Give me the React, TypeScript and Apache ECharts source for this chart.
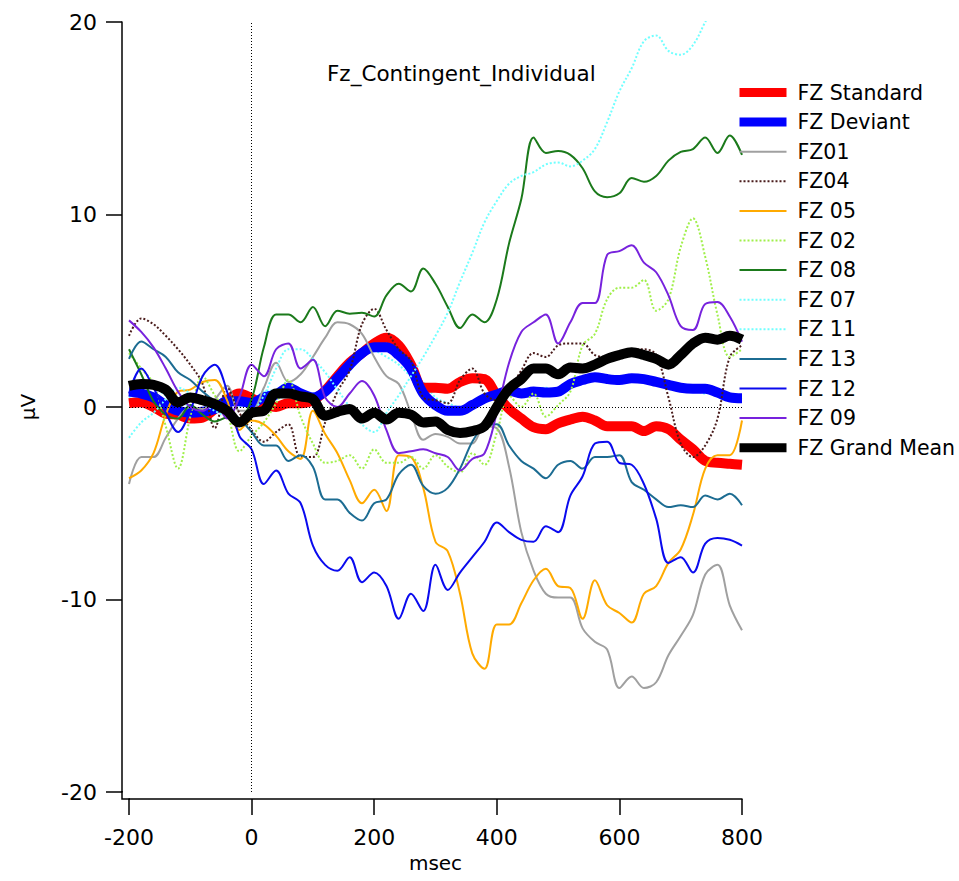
import React, { useEffect, useRef } from 'react';
import * as echarts from 'echarts';

const times = [-200, -180, -160, -140, -120, -100, -80, -60, -40, -20, 0, 20, 40, 60, 80, 100, 120, 140, 160, 180, 200, 220, 240, 260, 280, 300, 320, 340, 360, 380, 400, 420, 440, 460, 480, 500, 520, 540, 560, 580, 600, 620, 640, 660, 680, 700, 720, 740, 760, 780, 800];

const xTicks = [-200, 0, 200, 400, 600, 800];
const yTicks = [-20, -10, 0, 10, 20];

const fzStandard = [0.2, 0.25, 0.0, -0.35, -0.4, -0.6, -0.55, -0.1, 0.35, 0.7, 0.45, 0.15, 0.0, 0.2, 0.2, 0.35, 0.85, 1.6, 2.3, 2.8, 3.3, 3.6, 3.2, 2.2, 1.0, 1.0, 0.95, 1.3, 1.5, 1.45, 0.6, -0.1, -0.6, -1.05, -1.15, -0.85, -0.65, -0.5, -0.7, -1.0, -1.0, -1.0, -1.25, -1.0, -1.15, -1.7, -2.2, -2.8, -2.9, -2.95, -3.0];
const fzDeviant = [0.8, 0.7, 0.5, 0.1, -0.2, -0.3, -0.25, -0.1, 0.3, 0.3, 0.2, 0.5, 0.65, 1.0, 0.7, 0.5, 0.8, 1.5, 2.2, 2.8, 3.1, 3.1, 2.7, 2.0, 0.7, 0.1, -0.2, -0.2, 0.1, 0.45, 0.65, 0.85, 0.7, 0.8, 0.75, 0.8, 1.2, 1.4, 1.55, 1.45, 1.4, 1.5, 1.45, 1.3, 1.15, 1.0, 0.95, 0.95, 0.75, 0.5, 0.45];
const fz01 = [-4.0, -2.6, -2.6, -1.6, -0.6, 0.0, -0.1, 0.4, 1.1, -0.2, -0.2, 1.0, 2.3, 1.3, 1.7, 2.6, 3.6, 4.4, 4.3, 3.8, 2.6, 1.6, 1.2, -0.3, -1.7, -1.4, -1.55, -1.9, -1.9, -1.0, -1.1, -3.1, -6.5, -8.5, -9.7, -9.9, -9.9, -11.5, -12.2, -12.6, -14.6, -14.0, -14.6, -14.3, -12.9, -11.9, -10.8, -8.7, -8.2, -10.3, -11.6];
const fz04 = [3.7, 4.6, 4.3, 3.7, 3.0, 2.2, 1.2, -1.1, 1.0, -0.3, -1.2, -1.8, -1.3, -0.9, -2.6, -2.6, -0.8, 0.8, 1.9, 4.3, 5.1, 4.0, 3.0, 2.4, 0.5, 0.35, 0.2, 1.4, 2.0, 0.7, 0.35, 0.9, 1.9, 2.8, 2.6, 3.2, 3.3, 3.3, 2.7, 2.6, 2.8, 3.0, 3.0, 2.7, 0.5, -1.9, -2.6, -2.0, -0.6, 2.6, 3.2];
const fz05 = [-3.7, -3.3, -2.4, -0.4, 0.8, 0.9, 1.3, 1.4, 0.35, -1.2, -0.7, -0.9, -1.5, -2.3, -2.7, -0.2, -1.4, -2.4, -3.8, -5.0, -4.3, -5.4, -2.5, -2.6, -4.2, -7.0, -7.5, -9.7, -12.8, -13.6, -11.3, -11.3, -10.2, -9.0, -8.4, -9.3, -9.4, -11.0, -9.0, -10.3, -10.7, -11.2, -9.7, -9.3, -8.1, -7.4, -5.6, -3.2, -2.5, -2.5, -0.7];
const fz02 = [2.8, 2.0, 1.2, -1.0, -3.2, -0.5, 1.6, 0.6, -0.3, -2.3, -1.5, -0.8, 0.2, 1.4, -0.5, -1.9, -2.9, -2.8, -2.5, -3.2, -2.2, -2.9, -2.9, -2.6, -3.2, -2.5, -3.1, -3.4, -2.4, -3.0, -1.35, 0.6, 0.0, 0.7, -0.5, 0.1, 0.8, 3.2, 3.8, 5.6, 6.2, 6.2, 6.6, 5.0, 5.6, 8.3, 9.8, 7.8, 4.8, 2.6, 3.0];
const fz08 = [3.0, 1.7, 0.3, -0.4, -0.6, 0.1, -0.4, -0.75, -0.55, -0.6, 0.4, 3.1, 4.8, 4.8, 4.4, 5.2, 4.2, 5.0, 4.85, 4.9, 4.7, 5.8, 6.4, 6.0, 7.2, 6.4, 5.2, 4.1, 4.8, 4.4, 5.6, 8.5, 10.8, 14.0, 13.2, 13.3, 13.1, 12.4, 11.2, 10.9, 11.1, 11.9, 11.7, 12.0, 12.8, 13.25, 13.4, 14.0, 13.2, 14.1, 13.1];
const fz07 = [-1.6, -0.8, -0.3, 0.4, 1.0, 0.7, 0.2, -0.2, -0.5, -0.6, -0.3, 0.6, 2.0, 3.0, 3.0, 2.5, 1.8, 0.9, 0.0, -0.9, -1.3, -0.3, 0.6, 1.6, 2.6, 3.7, 4.9, 6.5, 8.0, 9.6, 10.7, 11.6, 12.0, 12.2, 12.6, 12.7, 12.5, 12.8, 13.4, 14.8, 16.4, 17.6, 19.0, 19.3, 18.5, 18.3, 18.8, 20.0, 21.2, 22.0, 22.5];
const fz11 = [0.5, 0.9, 1.0, 0.6, 0.3, 0.0, -0.3, 0.2, 0.5, 0.0, 0.3, 0.8, 0.9, 1.3, 0.8, 0.7, 1.0, 1.6, 2.3, 2.6, 2.9, 2.6, 2.2, 1.6, 1.3, 0.5, 0.2, 0.0, 0.2, 0.5, 0.8, 1.0, 0.8, 0.9, 1.0, 0.8, 1.1, 1.4, 1.6, 1.5, 1.5, 1.5, 1.4, 1.2, 1.0, 0.9, 0.9, 0.7, 0.9, 0.6, 0.4];
const fz13 = [2.5, 3.4, 3.0, 2.6, 1.8, 1.4, 0.8, 0.3, -0.2, -0.6, -1.3, -2.0, -2.0, -2.8, -2.5, -3.1, -4.8, -4.8, -5.5, -5.9, -5.0, -4.8, -3.5, -3.0, -4.1, -4.5, -4.2, -3.2, -1.8, -1.0, -0.9, -2.0, -2.8, -3.2, -3.7, -3.0, -2.8, -3.2, -2.6, -2.6, -2.5, -3.9, -4.3, -4.8, -5.2, -5.1, -5.2, -4.6, -4.8, -4.5, -5.1];
const fz12 = [0.7, 2.0, 1.0, -0.3, -1.3, -0.2, 1.6, 2.2, 0.8, -1.5, -2.2, -4.0, -3.3, -4.5, -5.0, -7.2, -8.2, -8.5, -7.8, -9.1, -8.6, -9.3, -11.0, -9.7, -10.6, -8.2, -9.5, -8.6, -7.8, -7.0, -6.0, -6.5, -6.9, -7.0, -6.2, -6.5, -4.6, -3.6, -1.9, -1.8, -2.9, -3.0, -4.0, -5.8, -8.1, -7.8, -8.6, -7.1, -6.8, -6.9, -7.2];
const fz09 = [4.5, 3.9, 3.1, 2.0, 0.8, 0.0, -0.2, 0.2, -0.6, 0.5, 2.2, 1.6, 3.0, 3.3, 2.0, 2.45, 0.5, 0.0, 0.7, 1.35, 0.6, -1.2, -2.4, -2.3, -2.2, -2.4, -2.6, -3.3, -2.7, -2.4, -0.3, 2.3, 3.9, 4.4, 4.8, 3.3, 4.4, 5.4, 5.4, 7.9, 8.1, 8.4, 7.5, 7.0, 5.8, 4.2, 4.0, 5.35, 5.45, 4.7, 3.4];
const fzGrandMean = [1.1, 1.2, 1.15, 0.9, 0.25, 0.5, 0.35, 0.15, -0.2, -0.8, -0.3, -0.2, 0.7, 0.7, 0.55, 0.4, -0.45, -0.25, -0.1, -0.6, -0.3, -0.65, -0.3, -0.4, -0.8, -0.75, -1.2, -1.35, -1.25, -1.0, 0.0, 0.95, 1.45, 2.0, 2.0, 1.7, 2.05, 2.0, 2.2, 2.5, 2.7, 2.85, 2.7, 2.5, 2.2, 2.7, 3.3, 3.6, 3.5, 3.7, 3.5];

const seriesNames = ['FZ Standard', 'FZ Deviant', 'FZ01', 'FZ04', 'FZ 05', 'FZ 02', 'FZ 08', 'FZ 07', 'FZ 11', 'FZ 13', 'FZ 12', 'FZ 09', 'FZ Grand Mean'];
const seriesValues = [fzStandard, fzDeviant, fz01, fz04, fz05, fz02, fz08, fz07, fz11, fz13, fz12, fz09, fzGrandMean];
const seriesColors = ['#ff0000', '#0000ff', '#a0a0a0', '#4a1c1c', '#ffaa00', '#a0ef4a', '#1b7a1b', '#70ffff', '#70ffff', '#1c6c92', '#0a0aee', '#7722dd', '#000000'];
const seriesWidths = [10, 10, 2, 2, 2, 2, 2, 2, 2, 2, 2, 2, 10];
const seriesDotted = [false, false, false, true, false, true, false, true, true, false, false, false, false];
const seriesZ = [3, 3, 3, 3, 3, 3, 3, 3, 2, 3, 3, 3, 3];

const FONT = '"DejaVu Sans", "Noto Sans", sans-serif';

export default function App() {
  const ref = useRef<HTMLDivElement>(null);

  useEffect(() => {
    if (!ref.current) return;
    const chart = echarts.init(ref.current, null, { renderer: 'svg' });

    const lineType = (k: number) => (seriesDotted[k] ? [2, 2] : 'solid');

    const lines = seriesNames.map((name, k) => ({
      name,
      type: 'line',
      data: times.map((t, i) => [t, seriesValues[k][i]]),
      smooth: 0.35,
      symbol: 'none',
      showSymbol: false,
      clip: true,
      silent: true,
      z: seriesZ[k],
      lineStyle: {
        color: seriesColors[k],
        width: seriesWidths[k],
        type: lineType(k),
        cap: 'butt',
        join: 'round',
      },
      itemStyle: { color: seriesColors[k] },
    }));

    const refLines = {
      type: 'line',
      data: [],
      z: 1,
      silent: true,
      markLine: {
        silent: true,
        symbol: ['none', 'none'],
        label: { show: false },
        lineStyle: { color: '#000', width: 1, type: [1, 2] },
        data: [{ yAxis: 0 }, { xAxis: 0 }],
      },
    };

    chart.setOption({
      animation: false,
      backgroundColor: '#ffffff',
      title: {
        text: 'Fz_Contingent_Individual',
        left: 327,
        top: 62,
        padding: 0,
        textStyle: { fontFamily: FONT, fontSize: 21.5, fontWeight: 'normal', color: '#000' },
      },
      legend: {
        orient: 'vertical',
        left: 735,
        top: 82,
        padding: 0,
        itemWidth: 47,
        itemHeight: 20,
        itemGap: 8.6,
        selectedMode: false,
        data: seriesNames.map((name, k) => ({
          name,
          itemStyle: { opacity: 0 },
          lineStyle: {
            color: seriesColors[k],
            width: Math.min(seriesWidths[k], 9),
            type: lineType(k),
            cap: 'butt',
          },
        })),
        itemStyle: { opacity: 0 },
        textStyle: { fontFamily: FONT, fontSize: 20.5, color: '#000', lineHeight: 20, padding: [0, 0, 0, 6] },
      },
      grid: { left: 129, right: 217, top: 22, bottom: 89 },
      xAxis: {
        type: 'value',
        min: xTicks[0],
        max: xTicks[xTicks.length - 1],
        interval: 200,
        offset: 7,
        name: 'msec',
        nameLocation: 'middle',
        nameGap: 50,
        nameTextStyle: { fontFamily: FONT, fontSize: 20, color: '#000' },
        axisLine: { show: true, onZero: false, lineStyle: { color: '#000', width: 1.5 } },
        axisTick: { show: true, length: 16, lineStyle: { color: '#000', width: 1.5 } },
        axisLabel: { fontFamily: FONT, fontSize: 22, color: '#000', margin: 27 },
        splitLine: { show: false },
      },
      yAxis: {
        type: 'value',
        min: yTicks[0],
        max: yTicks[yTicks.length - 1],
        interval: 10,
        offset: 7,
        name: 'μV',
        nameLocation: 'middle',
        nameGap: 84,
        nameRotate: 90,
        nameTextStyle: { fontFamily: FONT, fontSize: 20, color: '#000' },
        axisLine: { show: true, onZero: false, lineStyle: { color: '#000', width: 1.5 } },
        axisTick: { show: true, length: 16, lineStyle: { color: '#000', width: 1.5 } },
        axisLabel: { fontFamily: FONT, fontSize: 22, color: '#000', margin: 25 },
        splitLine: { show: false },
      },
      graphic: [
        {
          type: 'polyline',
          silent: true,
          shape: { points: [[122, 791], [122, 799], [130, 799]] },
          style: { stroke: '#000', lineWidth: 1.5, fill: 'none' },
        },
      ],
      series: [refLines, ...lines],
    });

    return () => chart.dispose();
  }, []);

  return (
    <div
      ref={ref}
      style={{ position: 'fixed', left: 0, top: 0, width: 959, height: 881, background: '#fff' }}
    />
  );
}
